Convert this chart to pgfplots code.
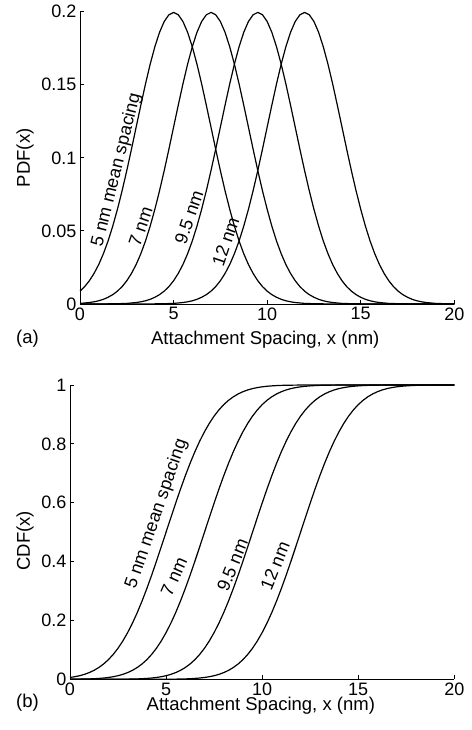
\documentclass[border=0pt]{standalone}
\usepackage{fontspec}
\setmainfont{Liberation Sans}
\usepackage{pgfplots}
\pgfplotsset{compat=1.18}
\usepackage{pgfplotstable}

\pgfplotstableread{
x p5 p7 p95 p12 c5 c7 c95 c12
0 .0088 .0004 0 0 .0062 .0002 0 0
0.25 .0119 .0007 0 0 .0088 .0004 0 0
0.5 .0159 .0010 0 0 .0122 .0006 0 0
0.75 .0209 .0015 0 0 .0168 .0009 0 0
1 .0270 .0022 0 0 .0228 .0013 0 0
1.25 .0344 .0032 0 0 .0304 .0020 0 0
1.5 .0431 .0046 .0001 0 .0401 .0030 0 0
1.75 .0533 .0064 .0001 0 .0521 .0043 .0001 0
2 .0648 .0088 .0002 0 .0668 .0062 .0001 0
2.25 .0775 .0119 .0003 0 .0846 .0088 .0001 0
2.5 .0913 .0159 .0004 0 .1056 .0122 .0002 0
2.75 .1059 .0209 .0007 0 .1303 .0168 .0004 0
3 .1210 .0270 .0010 0 .1587 .0228 .0006 0
3.25 .1360 .0344 .0015 0 .1908 .0304 .0009 0
3.5 .1506 .0431 .0022 0 .2266 .0401 .0013 0
3.75 .1641 .0533 .0032 0 .2660 .0521 .0020 0
4 .1760 .0648 .0046 .0001 .3085 .0668 .0030 0
4.25 .1859 .0775 .0064 .0001 .3538 .0846 .0043 .0001
4.5 .1933 .0913 .0088 .0002 .4013 .1056 .0062 .0001
4.75 .1979 .1059 .0119 .0003 .4503 .1303 .0088 .0001
5 .1995 .1210 .0159 .0004 .5000 .1587 .0122 .0002
5.25 .1979 .1360 .0209 .0007 .5497 .1908 .0168 .0004
5.5 .1933 .1506 .0270 .0010 .5987 .2266 .0228 .0006
5.75 .1859 .1641 .0344 .0015 .6462 .2660 .0304 .0009
6 .1760 .1760 .0431 .0022 .6915 .3085 .0401 .0013
6.25 .1641 .1859 .0533 .0032 .7340 .3538 .0521 .0020
6.5 .1506 .1933 .0648 .0046 .7734 .4013 .0668 .0030
6.75 .1360 .1979 .0775 .0064 .8092 .4503 .0846 .0043
7 .1210 .1995 .0913 .0088 .8413 .5000 .1056 .0062
7.25 .1059 .1979 .1059 .0119 .8697 .5497 .1303 .0088
7.5 .0913 .1933 .1210 .0159 .8944 .5987 .1587 .0122
7.75 .0775 .1859 .1360 .0209 .9154 .6462 .1908 .0168
8 .0648 .1760 .1506 .0270 .9332 .6915 .2266 .0228
8.25 .0533 .1641 .1641 .0344 .9479 .7340 .2660 .0304
8.5 .0431 .1506 .1760 .0431 .9599 .7734 .3085 .0401
8.75 .0344 .1360 .1859 .0533 .9696 .8092 .3538 .0521
9 .0270 .1210 .1933 .0648 .9772 .8413 .4013 .0668
9.25 .0209 .1059 .1979 .0775 .9832 .8697 .4503 .0846
9.5 .0159 .0913 .1995 .0913 .9878 .8944 .5000 .1056
9.75 .0119 .0775 .1979 .1059 .9912 .9154 .5497 .1303
10 .0088 .0648 .1933 .1210 .9938 .9332 .5987 .1587
10.25 .0064 .0533 .1859 .1360 .9957 .9479 .6462 .1908
10.5 .0046 .0431 .1760 .1506 .9970 .9599 .6915 .2266
10.75 .0032 .0344 .1641 .1641 .9980 .9696 .7340 .2660
11 .0022 .0270 .1506 .1760 .9987 .9772 .7734 .3085
11.25 .0015 .0209 .1360 .1859 .9991 .9832 .8092 .3538
11.5 .0010 .0159 .1210 .1933 .9994 .9878 .8413 .4013
11.75 .0007 .0119 .1059 .1979 .9996 .9912 .8697 .4503
12 .0004 .0088 .0913 .1995 .9998 .9938 .8944 .5000
12.25 .0003 .0064 .0775 .1979 .9999 .9957 .9154 .5497
12.5 .0002 .0046 .0648 .1933 .9999 .9970 .9332 .5987
12.75 .0001 .0032 .0533 .1859 .9999 .9980 .9479 .6462
13 .0001 .0022 .0431 .1760 1 .9987 .9599 .6915
13.25 0 .0015 .0344 .1641 1 .9991 .9696 .7340
13.5 0 .0010 .0270 .1506 1 .9994 .9772 .7734
13.75 0 .0007 .0209 .1360 1 .9996 .9832 .8092
14 0 .0004 .0159 .1210 1 .9998 .9878 .8413
14.25 0 .0003 .0119 .1059 1 .9999 .9912 .8697
14.5 0 .0002 .0088 .0913 1 .9999 .9938 .8944
14.75 0 .0001 .0064 .0775 1 .9999 .9957 .9154
15 0 .0001 .0046 .0648 1 1 .9970 .9332
15.25 0 0 .0032 .0533 1 1 .9980 .9479
15.5 0 0 .0022 .0431 1 1 .9987 .9599
15.75 0 0 .0015 .0344 1 1 .9991 .9696
16 0 0 .0010 .0270 1 1 .9994 .9772
16.25 0 0 .0007 .0209 1 1 .9996 .9832
16.5 0 0 .0004 .0159 1 1 .9998 .9878
16.75 0 0 .0003 .0119 1 1 .9999 .9912
17 0 0 .0002 .0088 1 1 .9999 .9938
17.25 0 0 .0001 .0064 1 1 .9999 .9957
17.5 0 0 .0001 .0046 1 1 1 .9970
17.75 0 0 0 .0032 1 1 1 .9980
18 0 0 0 .0022 1 1 1 .9987
18.25 0 0 0 .0015 1 1 1 .9991
18.5 0 0 0 .0010 1 1 1 .9994
18.75 0 0 0 .0007 1 1 1 .9996
19 0 0 0 .0004 1 1 1 .9998
19.25 0 0 0 .0003 1 1 1 .9999
19.5 0 0 0 .0002 1 1 1 .9999
19.75 0 0 0 .0001 1 1 1 .9999
20 0 0 0 .0001 1 1 1 1
}\data

\tikzset{curvelab/.style={font=\fontsize{18}{21}\selectfont, inner sep=0pt}}

\pgfplotsset{
  myaxis/.style={
    scale only axis,
    axis lines=left,
    axis line style={-, line width=0.9pt, black},
    xmin=0, xmax=20,
    xtick={0,5,10,15,20},
    xticklabels={0,5,10,15,20},
    tick align=inside,
    major tick length=4pt,
    tick style={line width=0.9pt, black},
    tick label style={font=\fontsize{18}{21}\selectfont},
    /pgf/number format/assume math mode=true,
    label style={font=\fontsize{18.5}{22}\selectfont},
    clip=false,
    cycle list={black,line width=1.2pt,line join=round,mark=none\\},
  }
}

\begin{document}
\begin{tikzpicture}
\useasboundingbox (0pt,0pt) rectangle (471pt,730pt);

% (a) PDF panel
\begin{axis}[myaxis,
  at={(80pt,426pt)}, anchor=south west,
  width=374.3pt, height=292.3pt,
  ymin=0, ymax=0.2,
  ytick={0,0.05,0.1,0.15,0.2},
  yticklabels={0,0.05,0.1,0.15,0.2},
  scaled y ticks=false,
  xlabel={Attachment Spacing, x (nm)},
  ylabel={PDF(x)},
  xlabel style={at={(axis description cs:0.495,-0.123)}, anchor=center},
  ylabel style={at={(axis description cs:-0.147,0.5)}, anchor=center, rotate=0},
]
\addplot table[x=x, y=p5] {\data};
\addplot table[x=x, y=p7] {\data};
\addplot table[x=x, y=p95] {\data};
\addplot table[x=x, y=p12] {\data};
\node[curvelab, rotate=76] at (axis cs:1.96,0.0917) {5 nm mean spacing};
\node[curvelab, rotate=71] at (axis cs:3.24,0.0529) {7 nm};
\node[curvelab, rotate=71] at (axis cs:5.82,0.0593) {9.5 nm};
\node[curvelab, rotate=71] at (axis cs:7.78,0.0426) {12 nm};
\end{axis}

% (b) CDF panel
\begin{axis}[myaxis,
  at={(70pt,50.7pt)}, anchor=south west,
  width=384.3pt, height=294.3pt,
  ymin=0, ymax=1,
  ytick={0,0.2,0.4,0.6,0.8,1},
  yticklabels={0,0.2,0.4,0.6,0.8,1},
  xlabel={Attachment Spacing, x (nm)},
  ylabel={CDF(x)},
  xlabel style={at={(axis description cs:0.4965,-0.0894)}, anchor=center},
  ylabel style={at={(axis description cs:-0.117,0.471)}, anchor=center, rotate=0},
]
\addplot table[x=x, y=c5] {\data};
\addplot table[x=x, y=c7] {\data};
\addplot table[x=x, y=c95] {\data};
\addplot table[x=x, y=c12] {\data};
\node[curvelab, rotate=71] at (axis cs:4.51,0.561) {5 nm mean spacing};
\node[curvelab, rotate=66] at (axis cs:5.41,0.349) {7 nm};
\node[curvelab, rotate=68] at (axis cs:8.45,0.388) {9.5 nm};
\node[curvelab, rotate=68] at (axis cs:10.67,0.386) {12 nm};
\end{axis}

\node[font=\fontsize{18.5}{22}\selectfont] at (27.5pt,391.5pt) {(a)};
\node[font=\fontsize{18.5}{22}\selectfont] at (27.5pt,27.5pt) {(b)};
\end{tikzpicture}
\end{document}
